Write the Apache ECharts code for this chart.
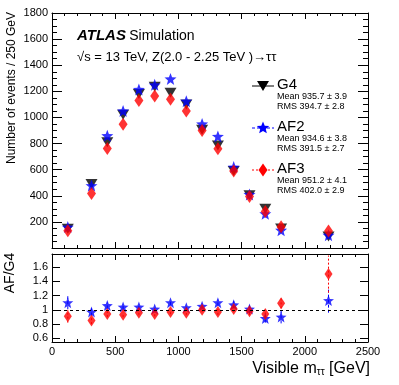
<!DOCTYPE html>
<html>
<head>
<meta charset="utf-8">
<script src="https://cdn.jsdelivr.net/npm/echarts@6/dist/echarts.min.js"></script>
<style>
  html, body { margin: 0; padding: 0; background: #fff; }
  #main { width: 399px; height: 385px; }
</style>
</head>
<body>
<div id="main"></div>
<script>
// bin centres (GeV)
var binCenters = [125, 312.5, 437.5, 562.5, 687.5, 812.5, 937.5, 1062.5, 1187.5, 1312.5, 1437.5, 1562.5, 1687.5, 1812.5, 2187.5];

// events / 250 GeV
var g4Events  = [148, 490, 810, 1020, 1180, 1235, 1190, 1100, 905, 785, 590, 405, 300, 150, 88];
var af2Events = [160, 478, 860, 1050, 1215, 1250, 1295, 1125, 950, 855, 620, 410, 262, 136, 98];
var af3Events = [133, 418, 762, 948, 1130, 1165, 1140, 1050, 900, 760, 590, 395, 280, 162, 130];

// ratio to G4
var af2Ratio = [1.10, 0.97, 1.06, 1.04, 1.04, 1.01, 1.10, 1.03, 1.05, 1.10, 1.07, 1.01, 0.88, 0.90, 1.13];
var af2RatioErr = [0.09, 0.05, 0.04, 0.03, 0.03, 0.03, 0.03, 0.03, 0.03, 0.04, 0.05, 0.06, 0.06, 0.09, 0.17];
var af3Ratio = [0.91, 0.85, 0.94, 0.93, 0.96, 0.94, 0.97, 0.96, 1.00, 0.97, 1.01, 0.98, 0.94, 1.09, 1.50];
var af3RatioErr = [0.09, 0.05, 0.04, 0.03, 0.03, 0.03, 0.03, 0.03, 0.03, 0.04, 0.04, 0.05, 0.06, 0.07, 0.26];

// ratio axis tick labels
var ratioTicks = [0.6, 0.8, 1.0, 1.2, 1.4, 1.6];

// legend entries
var legendNames = ['G4', 'AF2', 'AF3'];
var legendMeans = ['Mean 935.7 \u00b1 3.9', 'Mean 934.6 \u00b1 3.8', 'Mean 951.2 \u00b1 4.1'];
var legendRms = ['RMS 394.7 \u00b1 2.8', 'RMS 391.5 \u00b1 2.7', 'RMS 402.0 \u00b1 2.9'];

var FONT = 'Liberation Sans, Arial, sans-serif';
var STAR = 'path://M50 0 L62.5 33 L97.6 34.5 L70 56.5 L79.4 90.5 L50 71 L20.6 90.5 L30 56.5 L2.4 34.5 L37.5 33 Z';

function pairs(xs, ys) {
	var out = [];
	for (var i = 0; i < xs.length; i++) out.push([xs[i], ys[i]]);
	return out;
}
function errs(xs, ys, es) {
	var out = [];
	for (var i = 0; i < xs.length; i++) out.push([xs[i], ys[i] - es[i], ys[i] + es[i]]);
	return out;
}
function errorBar(color, dash) {
	return function (params, api) {
		var p1 = api.coord([api.value(0), api.value(1)]);
		var p2 = api.coord([api.value(0), api.value(2)]);
		return {
			type: 'line',
			shape: { x1: p1[0], y1: p1[1], x2: p2[0], y2: p2[1] },
			style: { stroke: color, lineWidth: 1, lineDash: dash }
		};
	};
}
function plain(v) { return String(v); }

function xAx(grid, pos, showLabel) {
	return {
		type: 'value', gridIndex: grid, position: pos,
		min: 0, max: 2500, interval: 500,
		axisLine: { show: true, onZero: false, lineStyle: { color: '#000', width: 1 } },
		axisTick: { inside: true, length: 6, lineStyle: { color: '#000' } },
		minorTick: { show: true, splitNumber: 5, length: 3, lineStyle: { color: '#000' } },
		axisLabel: { show: showLabel, color: '#000', fontFamily: FONT, fontSize: 11, margin: 4, formatter: plain },
		splitLine: { show: false }
	};
}

function ratioAx(pos, showLabel) {
	return {
		type: 'value', gridIndex: 1, position: pos,
		min: 0.55, max: 1.78,
		axisLine: { show: true, onZero: false, lineStyle: { color: '#000', width: 1 } },
		axisTick: { inside: true, length: 8, customValues: ratioTicks, lineStyle: { color: '#000' } },
		axisLabel: {
			show: showLabel, customValues: ratioTicks, color: '#000', fontFamily: FONT, fontSize: 11, margin: 4,
			formatter: function (v) { return String(Math.round(v * 10) / 10); }
		},
		splitLine: { show: false }
	};
}

function topY(pos, showLabel) {
	return {
		type: 'value', gridIndex: 0, position: pos,
		min: 0, max: 1800, interval: 200,
		axisLine: { show: true, onZero: false, lineStyle: { color: '#000', width: 1 } },
		axisTick: { inside: true, length: 10, lineStyle: { color: '#000' } },
		minorTick: { show: true, splitNumber: 4, length: 5, lineStyle: { color: '#000' } },
		axisLabel: {
			show: showLabel, color: '#000', fontFamily: FONT, fontSize: 11, margin: 4,
			formatter: function (v) { return v === 0 ? '' : String(v); }
		},
		splitLine: { show: false }
	};
}

// legend graphics
var legendY = [86, 128, 170];
var legendColors = ['#000', '#0000ff', '#ff0000'];
var legendDash = [null, [3, 2], [2, 2]];
var graphics = [];

function starPoints(cx, cy, r) {
	var pts = [];
	for (var k = 0; k < 10; k++) {
		var a = -Math.PI / 2 + k * Math.PI / 5;
		var rr = k % 2 === 0 ? r : r * 0.45;
		pts.push([cx + rr * Math.cos(a), cy + rr * Math.sin(a)]);
	}
	return pts;
}

for (var i = 0; i < 3; i++) {
	var ly = legendY[i];
	graphics.push({
		type: 'line', shape: { x1: 252, y1: ly, x2: 274, y2: ly },
		style: { stroke: legendColors[i], lineWidth: 1, lineDash: legendDash[i] }
	});
	var pts;
	if (i === 0) pts = [[257, ly - 5], [269, ly - 5], [263, ly + 5]];
	else if (i === 1) pts = starPoints(263, ly, 6.5);
	else pts = [[263, ly - 6.5], [267.5, ly], [263, ly + 6.5], [258.5, ly]];
	graphics.push({ type: 'polygon', shape: { points: pts }, style: { fill: legendColors[i] } });
	graphics.push({
		type: 'text', x: 277, y: ly - 1,
		style: { text: legendNames[i], font: '15px ' + FONT, fill: '#000', verticalAlign: 'middle' }
	});
	graphics.push({
		type: 'text', x: 277, y: ly + 10.5,
		style: { text: legendMeans[i], font: '9px ' + FONT, fill: '#000', verticalAlign: 'middle' }
	});
	graphics.push({
		type: 'text', x: 277, y: ly + 21,
		style: { text: legendRms[i], font: '9px ' + FONT, fill: '#000', verticalAlign: 'middle' }
	});
}

graphics.push({
	type: 'text', x: 77, y: 36,
	style: {
		text: '{b|ATLAS} {n|Simulation}', verticalAlign: 'middle',
		rich: {
			b: { font: 'italic bold 15px ' + FONT, fill: '#000' },
			n: { font: '14px ' + FONT, fill: '#000' }
		}
	}
});
graphics.push({
	type: 'text', x: 77, y: 57,
	style: { text: '\u221as = 13 TeV, Z(2.0 - 2.25 TeV )\u2192\u03c4\u03c4', font: '13px ' + FONT, fill: '#000', verticalAlign: 'middle' }
});
graphics.push({
	type: 'text', x: 12, y: 88, rotation: Math.PI / 2,
	style: { text: 'Number of events / 250 GeV', font: '12px ' + FONT, fill: '#000', align: 'center', verticalAlign: 'middle' }
});
graphics.push({
	type: 'text', x: 10, y: 273, rotation: Math.PI / 2,
	style: { text: 'AF/G4', font: '14px ' + FONT, fill: '#000', align: 'center', verticalAlign: 'middle' }
});
graphics.push({
	type: 'text', x: 370, y: 369,
	style: {
		text: '{t|Visible m}{s|\u03c4\u03c4}{t| [GeV]}', align: 'right', verticalAlign: 'middle',
		rich: {
			t: { font: '16px ' + FONT, fill: '#000' },
			s: { font: '10px ' + FONT, fill: '#000', padding: [6, 0, 0, 0] }
		}
	}
});

var myChart = echarts.init(document.getElementById('main'));
var option = {
	animation: false,
	grid: [
		{ left: 52, top: 13, width: 316, height: 235 },
		{ left: 52, top: 254, width: 316, height: 88 }
	],
	xAxis: [xAx(0, 'bottom', false), xAx(0, 'top', false), xAx(1, 'bottom', true), xAx(1, 'top', false)],
	yAxis: [topY('left', true), topY('right', false), ratioAx('left', true), ratioAx('right', false)],
	graphic: graphics,
	series: [
		{
			name: 'G4', type: 'scatter', xAxisIndex: 0, yAxisIndex: 0,
			data: pairs(binCenters, g4Events),
			symbol: 'triangle', symbolRotate: 180, symbolSize: [12, 10],
			itemStyle: { color: '#000' }
		},
		{
			name: 'AF2', type: 'scatter', xAxisIndex: 0, yAxisIndex: 0,
			data: pairs(binCenters, af2Events),
			symbol: STAR, symbolSize: 12,
			itemStyle: { color: '#0000ff' }
		},
		{
			name: 'AF3', type: 'scatter', xAxisIndex: 0, yAxisIndex: 0,
			data: pairs(binCenters, af3Events),
			symbol: 'diamond', symbolSize: [9, 13],
			itemStyle: { color: '#ff0000' }
		},
		{
			type: 'custom', xAxisIndex: 2, yAxisIndex: 2, clip: false,
			data: errs(binCenters, af2Ratio, af2RatioErr),
			encode: { x: 0, y: [1, 2] },
			renderItem: errorBar('#0000ff', [3, 2])
		},
		{
			type: 'custom', xAxisIndex: 2, yAxisIndex: 2, clip: false,
			data: errs(binCenters, af3Ratio, af3RatioErr),
			encode: { x: 0, y: [1, 2] },
			renderItem: errorBar('#ff0000', [2, 2])
		},
		{
			name: 'AF2/G4', type: 'scatter', xAxisIndex: 2, yAxisIndex: 2,
			data: pairs(binCenters, af2Ratio),
			symbol: STAR, symbolSize: 11,
			itemStyle: { color: '#0000ff' },
			markLine: {
				silent: true, symbol: 'none', label: { show: false },
				lineStyle: { color: '#000', type: [3, 3], width: 1 },
				data: [{ yAxis: 1 }]
			}
		},
		{
			name: 'AF3/G4', type: 'scatter', xAxisIndex: 2, yAxisIndex: 2,
			data: pairs(binCenters, af3Ratio),
			symbol: 'diamond', symbolSize: [8, 12],
			itemStyle: { color: '#ff0000' }
		}
	]
};
option && myChart.setOption(option);
</script>
</body>
</html>
